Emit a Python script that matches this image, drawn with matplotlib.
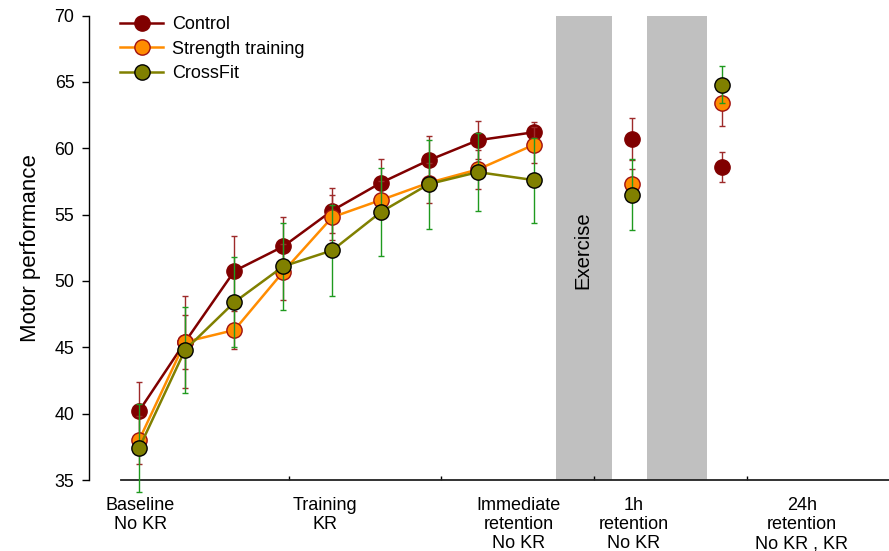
import matplotlib
matplotlib.use("Agg")
import matplotlib.pyplot as plt
from matplotlib.lines import Line2D

plt.rcParams['font.family'] = ['Liberation Sans', 'DejaVu Sans']

# session positions (baseline, 7 training blocks, immediate retention)
x_sessions = [1, 1.94, 2.95, 3.95, 4.95, 5.95, 6.93, 7.93, 9.07]
# 1h and 24h retention
x_ret = [11.08, 12.92]

control = [40.2, 45.4, 50.75, 52.6, 55.3, 57.4, 59.1, 60.6, 61.2]
control_err = [2.2, 3.5, 2.6, 2.2, 1.7, 1.8, 1.8, 1.45, 0.8]
control_ret = [60.7, 58.6]
control_ret_err = [1.6, 1.15]

strength = [38.0, 45.4, 46.3, 50.7, 54.8, 56.1, 57.4, 58.4, 60.25]
strength_err = [1.8, 2.0, 1.4, 2.1, 1.7, 1.4, 1.5, 1.45, 1.35]
strength_ret = [57.3, 63.4]
strength_ret_err = [1.1, 1.7]

crossfit = [37.4, 44.8, 48.4, 51.1, 52.3, 55.2, 57.3, 58.2, 57.6]
crossfit_err = [3.3, 3.25, 3.4, 3.3, 3.4, 3.3, 3.35, 2.95, 3.2]
crossfit_ret = [56.5, 64.8]
crossfit_ret_err = [2.7, 1.4]

cat_pos = [1.02, 4.80, 8.77, 11.12, 14.56]
cat_labels = ["Baseline\nNo KR", "Training\nKR", "Immediate\nretention\nNo KR",
              "1h\nretention\nNo KR", "24h\nretention\nNo KR , KR"]
sep_pos = [4.07, 7.18, 10.30, 13.43]
bands = [(9.53, 10.67), (11.39, 12.62)]

groups = [
    ("Control", control, control_err, control_ret, control_ret_err,
     '#800000', '#800000', '#800000', '#9e2a2a', 3),
    ("Strength training", strength, strength_err, strength_ret, strength_ret_err,
     '#ff8c00', '#ff8c00', '#a01010', '#9e2a2a', 4),
    ("CrossFit", crossfit, crossfit_err, crossfit_ret, crossfit_ret_err,
     '#808000', '#808000', '#000000', '#1f9a1f', 5),
]

fig = plt.figure(figsize=(8.89, 5.51), dpi=100)
ax = fig.add_axes([121 / 889, 1 - 480 / 551, 1 - 121 / 889, (480 - 15.5) / 551])

for lo, hi in bands:
    ax.axvspan(lo, hi, color='#c0c0c0', lw=0, zorder=0)
ax.text(10.08, 52.3, "Exercise", rotation=90, ha='center', va='center', fontsize=14.6)

handles = []
for name, vals, err, rvals, rerr, lc, fc, ec, errc, z in groups:
    eb = ax.errorbar(x_sessions + x_ret, vals + rvals, yerr=err + rerr, fmt='none',
                     ecolor=errc, elinewidth=1, capsize=2.5, capthick=1, zorder=z + 0.5)
    for art in eb.get_children():
        art.set_clip_on(False)
    ax.plot(x_sessions, vals, color=lc, lw=1.8, marker='o', ms=11, mfc=fc, mec=ec,
            mew=1, zorder=z + 0.6)
    ax.plot(x_ret, rvals, ls='none', marker='o', ms=11, mfc=fc, mec=ec, mew=1,
            zorder=z + 0.6)
    handles.append(Line2D([], [], color=lc, lw=1.8, marker='o', ms=11, mfc=fc,
                          mec=ec, mew=1, label=name))

ax.legend(handles=handles, loc='upper left', bbox_to_anchor=(120 / 889, 1 - 16 / 551),
          bbox_transform=fig.transFigure, frameon=False, fontsize=13, borderpad=0,
          handlelength=2.4, handletextpad=0.5, labelspacing=0.42, borderaxespad=0)

ax.set_ylim(35, 70)
ax.set_xlim(0.63, 16.34)
ax.set_yticks(range(35, 71, 5))
ax.set_ylabel("Motor performance", fontsize=16, labelpad=10)
ax.set_xticks(cat_pos)
ax.set_xticklabels(cat_labels, fontsize=13, linespacing=1.17)
ax.set_xticks(sep_pos, minor=True)
ax.tick_params(axis='x', which='major', length=0, pad=12)
ax.tick_params(axis='x', which='minor', direction='in', length=3, width=1)
ax.tick_params(axis='y', labelsize=12.8, length=5, width=1, pad=5.5)

ax.spines['top'].set_visible(False)
ax.spines['right'].set_visible(False)
ax.spines['left'].set_position(('outward', 23))
ax.spines['left'].set_bounds(35, 70)
ax.spines['left'].set_linewidth(1)
ax.spines['bottom'].set_linewidth(1.3)
ax.spines['bottom'].set_color('#222222')

fig.savefig("out.png", dpi=100)
